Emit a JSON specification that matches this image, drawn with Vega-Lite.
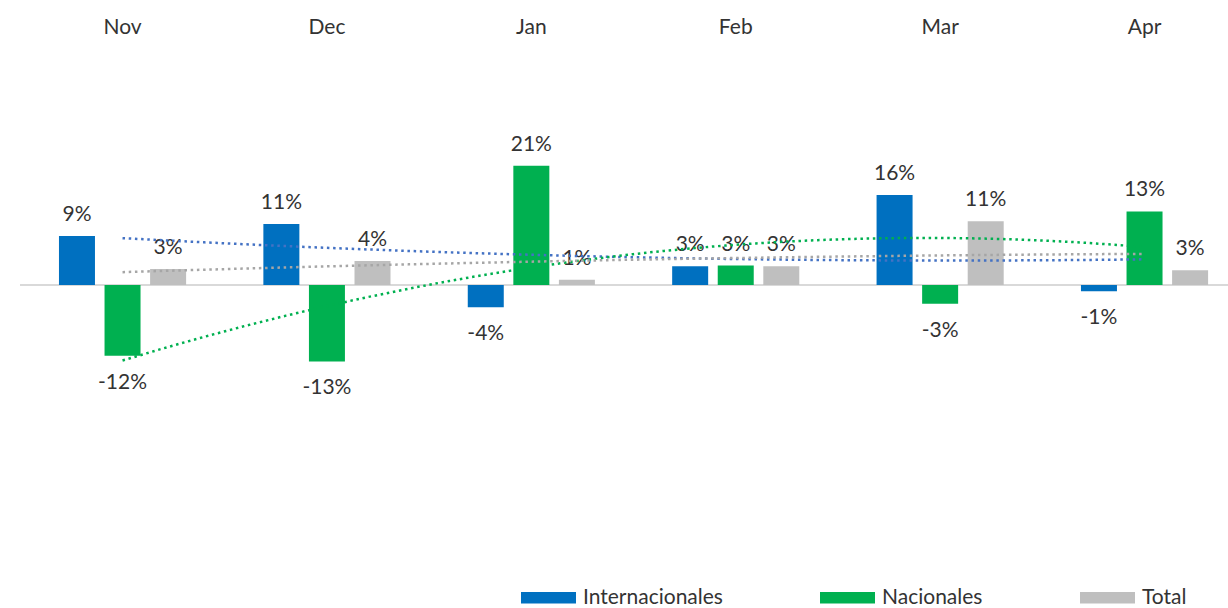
{
  "$schema": "https://vega.github.io/schema/vega-lite/v6.json",
  "width": 1208,
  "height": 500,
  "autosize": {"type": "none"},
  "padding": {"left": 20, "top": 50, "right": 0, "bottom": 58},
  "background": "white",
  "data": {
    "values": [
      {"month": "Nov", "series": "Internacionales", "value": 0.086},
      {"month": "Nov", "series": "Nacionales", "value": -0.124},
      {"month": "Nov", "series": "Total", "value": 0.028},
      {"month": "Dec", "series": "Internacionales", "value": 0.107},
      {"month": "Dec", "series": "Nacionales", "value": -0.134},
      {"month": "Dec", "series": "Total", "value": 0.042},
      {"month": "Jan", "series": "Internacionales", "value": -0.039},
      {"month": "Jan", "series": "Nacionales", "value": 0.209},
      {"month": "Jan", "series": "Total", "value": 0.009},
      {"month": "Feb", "series": "Internacionales", "value": 0.033},
      {"month": "Feb", "series": "Nacionales", "value": 0.034},
      {"month": "Feb", "series": "Total", "value": 0.033},
      {"month": "Mar", "series": "Internacionales", "value": 0.158},
      {"month": "Mar", "series": "Nacionales", "value": -0.033},
      {"month": "Mar", "series": "Total", "value": 0.112},
      {"month": "Apr", "series": "Internacionales", "value": -0.011},
      {"month": "Apr", "series": "Nacionales", "value": 0.129},
      {"month": "Apr", "series": "Total", "value": 0.026}
    ]
  },
  "layer": [
    {
      "mark": {"type": "rule", "color": "#D9D9D9", "strokeWidth": 1.5},
      "encoding": {
        "y": {"datum": 0, "type": "quantitative", "scale": {"domain": [-0.46491, 0.41228], "nice": false, "zero": false}, "axis": null}
      }
    },
    {
      "encoding": {
        "x": {
          "field": "month",
          "type": "nominal",
          "sort": ["Nov", "Dec", "Jan", "Feb", "Mar", "Apr"],
          "scale": {"paddingInner": 0.378, "paddingOuter": 0.144, "align": 0.662},
          "axis": {
            "orient": "top",
            "title": null,
            "domain": false,
            "ticks": false,
            "tickSize": 0,
            "grid": false,
            "labelPadding": 23,
            "labelAngle": 0,
            "labelFont": "Lato",
            "labelFontSize": 21,
            "labelColor": "#333333",
            "labelBaseline": "middle"
          }
        },
        "xOffset": {"field": "series", "type": "nominal", "scale": {"paddingInner": 0.21, "paddingOuter": 0}},
        "y": {"field": "value", "type": "quantitative", "axis": null}
      },
      "layer": [
        {
          "mark": {"type": "bar"},
          "encoding": {
            "color": {
              "field": "series",
              "type": "nominal",
              "scale": {"domain": ["Internacionales", "Nacionales", "Total"], "range": ["#0070C0", "#00B050", "#BFBFBF"]},
              "legend": {
                "orient": "none",
                "legendX": 501,
                "legendY": 520,
                "direction": "horizontal",
                "title": null,
                "symbolType": "M-1,-0.205H1V0.205H-1Z",
                "symbolSize": 3025,
                "symbolStrokeWidth": 0,
                "labelFont": "Lato",
                "labelFontSize": 21,
                "labelColor": "#333333",
                "labelOffset": 7,
                "columnPadding": 97
              }
            }
          }
        },
        {
          "transform": [{"filter": "datum.value >= 0"}],
          "mark": {"type": "text", "baseline": "alphabetic", "dy": -15, "font": "Lato", "fontSize": 21, "color": "#333333"},
          "encoding": {"text": {"field": "value", "type": "quantitative", "format": ".0%"}}
        },
        {
          "transform": [{"filter": "datum.value < 0"}],
          "mark": {"type": "text", "baseline": "alphabetic", "dy": 33, "font": "Lato", "fontSize": 21, "color": "#333333"},
          "encoding": {"text": {"field": "value", "type": "quantitative", "format": ".0%"}}
        }
      ]
    },
    {
      "transform": [
        {"window": [{"op": "row_number", "as": "idx"}], "groupby": ["series"]},
        {"regression": "value", "on": "idx", "groupby": ["series"], "method": "poly", "order": 2}
      ],
      "mark": {"type": "line", "strokeWidth": 2.5, "strokeDash": [2.5, 3.7]},
      "encoding": {
        "x": {"field": "idx", "type": "quantitative", "scale": {"domain": [0.4983, 6.4093], "nice": false, "zero": false}, "axis": null},
        "y": {"field": "value", "type": "quantitative", "axis": null},
        "color": {
          "field": "series",
          "type": "nominal",
          "scale": {"domain": ["Internacionales", "Nacionales", "Total"], "range": ["#4472C4", "#00B050", "#A6A6A6"]},
          "legend": null
        }
      }
    }
  ],
  "resolve": {"scale": {"x": "independent", "color": "independent"}},
  "config": {
    "view": {"stroke": null},
    "locale": {"number": {"decimal": ".", "thousands": ",", "grouping": [3], "currency": ["$", ""], "minus": "-"}}
  }
}
